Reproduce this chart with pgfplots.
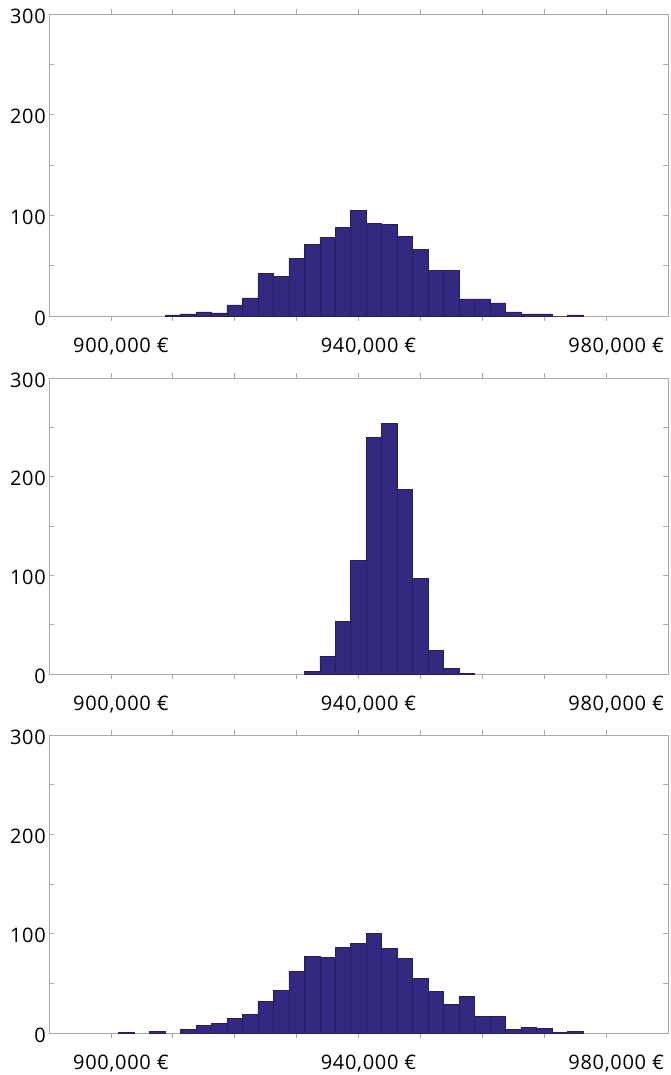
\documentclass[border=0pt]{standalone}
\usepackage{fontspec}
\setmainfont{Open Sans}[LetterSpace=3.5]
\usepackage{pgfplots}
\pgfplotsset{compat=1.18}
\definecolor{barfill}{RGB}{50,41,128}
\definecolor{baredge}{RGB}{38,31,90}
\definecolor{axgray}{RGB}{170,170,170}
\pgfplotsset{
  hist/.style={
    scale only axis,
    width=619pt,
    xmin=890000, xmax=990000,
    ymin=0, ymax=300,
    axis line style={axgray, line width=1pt},
    tick style={axgray, line width=0.8pt},
    major tick length=5pt,
    tick align=inside,
    tick pos=both,
    xtick={900000,910000,...,980000},
    xticklabels={{900,000 €},{},{},{},{940,000 €},{},{},{},{980,000 €}},
    ytick={0,50,...,300},
    yticklabels={0,,100,,200,,300},
    ticklabel style={font=\fontsize{20}{24}\selectfont, text=black},
    xticklabel style={inner sep=0pt, anchor=north, yshift=-16.5pt, xshift=10pt},
    yticklabel style={inner sep=0pt, anchor=east, xshift=-3pt, yshift=-2pt},
    scaled x ticks=false,
    ybar, bar width=2500, bar shift=0pt,
    cycle list={{fill=barfill, draw=baredge, line width=0.6pt}},
  }
}
\begin{document}
\begin{tikzpicture}
\path[use as bounding box] (0pt,0pt) rectangle (671pt,-1075pt);
\begin{axis}[hist, height=302pt, at={(49pt,-316pt)}, anchor=south west]
\addplot[fill=barfill, draw=baredge, line width=0.6pt] coordinates {
(910000,1) (912500,2) (915000,4) (917500,3) (920000,11) (922500,18)
(925000,42) (927500,39) (930000,57) (932500,71) (935000,78) (937500,88)
(940000,105) (942500,92) (945000,91) (947500,79) (950000,66) (952500,45)
(955000,45) (957500,17) (960000,17) (962500,13) (965000,4) (967500,2)
(970000,2) (972500,0) (975000,1)
};
\end{axis}
\begin{axis}[hist, height=296pt, at={(49pt,-674pt)}, anchor=south west]
\addplot[fill=barfill, draw=baredge, line width=0.6pt] coordinates {
(932500,3) (935000,18) (937500,53) (940000,115) (942500,240) (945000,254)
(947500,187) (950000,97) (952500,24) (955000,6) (957500,1)
};
\end{axis}
\begin{axis}[hist, height=298pt, at={(49pt,-1033pt)}, anchor=south west]
\addplot[fill=barfill, draw=baredge, line width=0.6pt] coordinates {
(902500,1) (907500,2) (912500,4) (915000,8) (917500,10) (920000,15)
(922500,19) (925000,32) (927500,43) (930000,62) (932500,77) (935000,76)
(937500,86) (940000,90) (942500,100) (945000,85) (947500,75) (950000,55)
(952500,42) (955000,29) (957500,37) (960000,17) (962500,17) (965000,4)
(967500,6) (970000,5) (972500,1) (975000,2)
};
\end{axis}
\end{tikzpicture}
\end{document}
